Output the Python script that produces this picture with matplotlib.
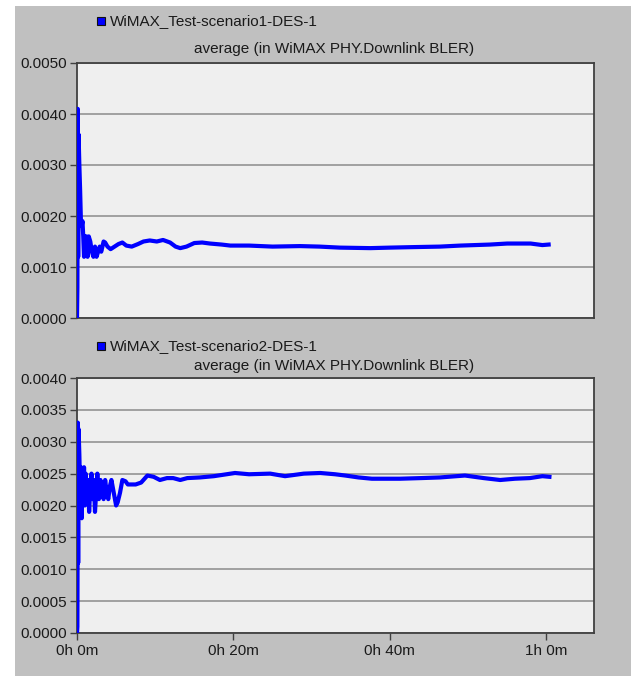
import matplotlib
matplotlib.use("Agg")
import matplotlib.pyplot as plt
from matplotlib.patches import Rectangle
from matplotlib.ticker import FixedLocator, FuncFormatter

# ---------------- data ----------------
top_t = [0, 0.05, 0.1, 0.15, 0.2, 0.3, 0.4, 0.5, 0.6, 0.7, 0.8, 0.9, 1.0, 1.1, 1.2,
         1.35, 1.5, 1.7, 1.9, 2.1, 2.3, 2.5, 2.7, 2.9, 3.1, 3.4, 3.6, 3.9, 4.3, 4.8,
         5.3, 5.8, 6.3, 7.0, 7.8, 8.5, 9.3, 10.2, 11.0, 11.9, 12.6, 13.2, 14.0, 15.0,
         16, 17, 18.5, 19.6, 22, 25, 28.5, 31, 33.6, 37.5, 40, 43, 46.4, 49, 52.8, 55,
         58, 59.5, 60.3]
top_v = [0.0, 0.0006, 0.0041, 0.0012, 0.0036, 0.0030, 0.0025, 0.0019, 0.0018, 0.0019,
         0.0016, 0.0012, 0.0016, 0.0013, 0.0016, 0.0012, 0.0016, 0.0015, 0.0013, 0.0012,
         0.0014, 0.0012, 0.0013, 0.0014, 0.0013, 0.0015, 0.00148, 0.0014, 0.00135,
         0.0014, 0.00145, 0.00148, 0.00142, 0.0014, 0.00145, 0.0015, 0.00152, 0.0015,
         0.00153, 0.00148, 0.0014, 0.00137, 0.0014, 0.00147, 0.00148, 0.00146, 0.00144,
         0.00142, 0.00142, 0.0014, 0.00141, 0.0014, 0.00138, 0.00137, 0.00138, 0.00139,
         0.0014, 0.00142, 0.00144, 0.00146, 0.00146, 0.00143, 0.00144]

bot_t = [0, 0.05, 0.08, 0.1, 0.15, 0.2, 0.3, 0.4, 0.5, 0.6, 0.7, 0.8, 0.9, 1.0, 1.1,
         1.25, 1.4, 1.55, 1.7, 1.85, 2.0, 2.15, 2.3, 2.45, 2.6, 2.8, 3.0, 3.2, 3.4, 3.6,
         3.8, 4.0, 4.2, 4.4, 4.7, 5.0, 5.2, 5.5, 5.8, 6.2, 6.5, 7.5, 8.2, 9.0, 9.8, 10.6,
         11.5, 12.3, 13.2, 14.1, 15.7, 17.5, 20.2, 22, 24.7, 26.6, 29, 31.1, 33, 34.3,
         36, 37.7, 41.3, 44, 46.4, 49.6, 52, 54.1, 56, 57.9, 59.5, 60.4]
bot_v = [0.0, 0.0001, 0.0016, 0.0033, 0.0011, 0.0032, 0.0028, 0.0022, 0.0026, 0.0018,
         0.0024, 0.0021, 0.0026, 0.0020, 0.0025, 0.0021, 0.0024, 0.0019, 0.0023, 0.0025,
         0.0021, 0.0024, 0.0019, 0.0022, 0.0025, 0.0021, 0.0024, 0.0022, 0.0021, 0.0024,
         0.0022, 0.0021, 0.0023, 0.0024, 0.0022, 0.0020, 0.00205, 0.0022, 0.0024,
         0.00238, 0.00233, 0.00233, 0.00236, 0.00247, 0.00245, 0.0024, 0.00243, 0.00243,
         0.0024, 0.00243, 0.00244, 0.00246, 0.00251, 0.00249, 0.0025, 0.00246, 0.0025,
         0.00251, 0.00249, 0.00247, 0.00244, 0.00242, 0.00242, 0.00243, 0.00244, 0.00247,
         0.00243, 0.0024, 0.00242, 0.00243, 0.00246, 0.00245]

top_yticks = [0.0, 0.001, 0.002, 0.003, 0.004, 0.005]
bot_yticks = [0.0, 0.0005, 0.001, 0.0015, 0.002, 0.0025, 0.003, 0.0035, 0.004]
x_ticks = [0, 20, 40, 60]
x_labels = ["0h 0m", "0h 20m", "0h 40m", "1h 0m"]
legend_names = ["WiMAX_Test-scenario1-DES-1", "WiMAX_Test-scenario2-DES-1"]
subtitle = "average (in WiMAX PHY.Downlink BLER)"

# ---------------- figure ----------------
W, H = 631, 676
plt.rcParams['font.family'] = ['Liberation Sans', 'DejaVu Sans']
fig = plt.figure(figsize=(W / 100, H / 100), dpi=100)
fig.patch.set_facecolor('white')

# gray panel background (behind the axes)
fig.patches.append(Rectangle((15 / W, 0), 1 - 15 / W, 1 - 6 / H, transform=fig.transFigure,
                             facecolor='#c0c0c0', edgecolor='none', zorder=-10))

def fx(px):
    return px / W

def fy(py):
    return 1 - py / H

left, right = 77, 594
axes_spec = [(63, 318, top_t, top_v, top_yticks, 0.005, 21, 49, legend_names[0], False),
             (378, 633, bot_t, bot_v, bot_yticks, 0.004, 346, 366, legend_names[1], True)]

fs_tick = 11
fs_text = 11
for (ytop, ybot, t, v, yt, ymax, leg_y, sub_y, name, show_x) in axes_spec:
    ax = fig.add_axes([fx(left), fy(ybot), fx(right) - fx(left), fy(ytop) - fy(ybot)])
    ax.set_facecolor('#efefef')
    ax.plot(t, v, color='#0000ff', lw=3.0, solid_joinstyle='round', zorder=3)
    ax.set_xlim(0, 66.1)
    ax.set_ylim(0, ymax)
    ax.yaxis.set_major_locator(FixedLocator(yt))
    ax.yaxis.set_major_formatter(FuncFormatter(lambda val, pos: f"{val:.4f}"))
    ax.grid(axis='y', color='#9a9a9a', lw=1.3, zorder=1)
    ax.tick_params(axis='y', direction='out', length=5, width=1, color='#404040',
                   labelsize=fs_tick, labelcolor='#1a1a1a', pad=2)
    if show_x:
        ax.set_xticks(x_ticks)
        ax.set_xticklabels(x_labels)
        ax.tick_params(axis='x', direction='out', length=5, width=1, color='#404040',
                       labelsize=fs_tick, labelcolor='#1a1a1a', pad=3)
    else:
        ax.set_xticks([])
    for s in ax.spines.values():
        s.set_color('#404040')
        s.set_linewidth(1.3)
    # legend marker + text
    fig.patches.append(Rectangle((fx(97), fy(leg_y + 4)), fx(8), 8 / H,
                                 transform=fig.transFigure, facecolor='#0000ff',
                                 edgecolor='#101010', lw=0.8, zorder=5))
    fig.text(fx(110), fy(leg_y), name, fontsize=fs_text, color='#1a1a1a', va='center', ha='left')
    fig.text(fx(334), fy(sub_y), subtitle, fontsize=fs_text, color='#1a1a1a', va='center', ha='center')

fig.savefig("out.png", dpi=100, facecolor=fig.get_facecolor())
